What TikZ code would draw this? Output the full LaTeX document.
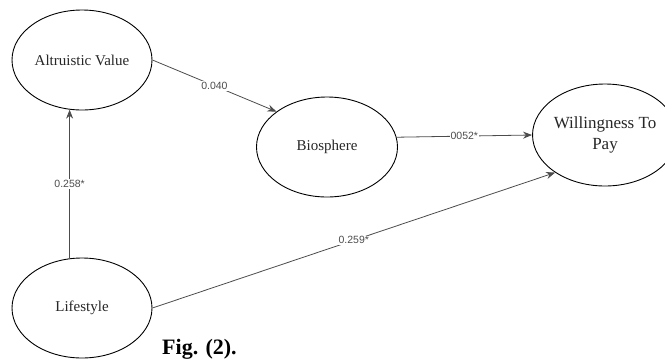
\documentclass[tikz,border=0pt]{standalone}
\usepackage{fontspec}
\setmainfont{Liberation Serif}
\setsansfont{Liberation Sans}
\usetikzlibrary{arrows.meta,shapes.geometric}

\begin{document}
\begin{tikzpicture}[x=1pt, y=-1pt,
    construct/.style={draw=black, line width=0.9pt, ellipse, inner sep=0pt, align=center,
      text=black!85, font=\fontsize{15}{18}\selectfont},
    path/.style={draw=black!70, line width=0.8pt, -{Stealth[length=9pt,width=7pt]}},
    weight/.style={fill=white, inner sep=1pt, text=black!70, font=\sffamily\fontsize{10.5}{12}\selectfont}]
    \clip (0, 0) rectangle (665, 360);

    \node[construct, minimum width=140pt, minimum height=100pt] (altru) at (82, 60) {Altruistic Value};
    \node[construct, minimum width=141pt, minimum height=100pt] (bio) at (327, 147) {Biosphere};
    \node[construct, minimum width=136pt, minimum height=102pt, font=\fontsize{17}{21}\selectfont] (wtp) at (605, 135) {Willingness To\\Pay};
    \node[construct, minimum width=140pt, minimum height=100pt] (life) at (82, 308) {Lifestyle};

    \draw[path] (life.104) -- node[weight] {0.258*} (altru.256);
    \draw[path] (altru.east) -- node[weight] {0.040} (bio.145);
    \draw[path] (bio.8) -- node[weight] {0052*} (wtp.west);
    \draw[path] (life.east) -- node[weight] {0.259*} (wtp.217);

    \node[anchor=base west, inner sep=0pt, font=\fontsize{22}{25}\selectfont\bfseries] (caption) at (162, 354.5) {Fig. (2).};
  \end{tikzpicture}
\end{document}
